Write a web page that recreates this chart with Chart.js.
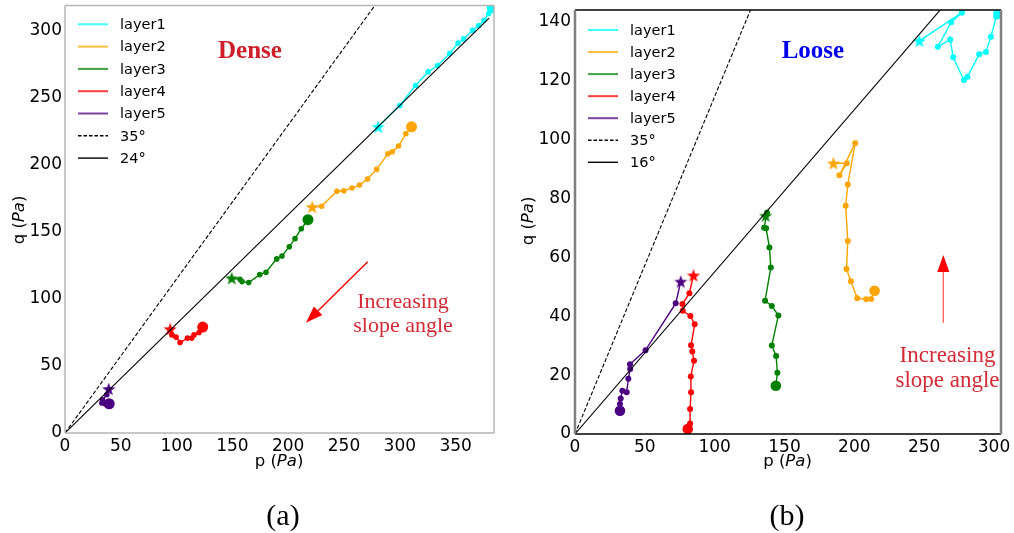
<!DOCTYPE html>
<html><head><meta charset="utf-8">
<script src="https://cdn.jsdelivr.net/npm/chart.js@4"></script>
<style>
html,body{margin:0;padding:0;background:#fff;width:1014px;height:533px;overflow:hidden}
canvas{position:absolute;top:0}
#c1{left:0} #c2{left:507px}
</style></head><body>
<canvas id="c1" width="507" height="533"></canvas>
<canvas id="c2" width="507" height="533"></canvas>
<script>
// ---------- DATA: (a) Dense ----------
const layerNames = ['layer1','layer2','layer3','layer4','layer5'];
const layerColors = ['#00ffff','#ffa500','#008000','#ff0000','#4b0082'];

const denseL1p = [280.6, 300.0, 314.1, 325.4, 333.8, 344.8, 352.2, 357.3, 365.1, 370.7, 375.5, 379.7, 382.7];
const denseL1q = [228.1, 244.0, 258.9, 269.1, 273.8, 282.7, 290.6, 293.6, 300.1, 303.6, 307.5, 312.5, 317.0];
const denseL2p = [221.5, 229.9, 243.6, 249.9, 257.1, 263.9, 271.1, 279.2, 289.3, 293.2, 298.9, 305.4, 310.5];
const denseL2q = [168.4, 168.9, 180.1, 180.5, 182.5, 184.7, 189.2, 196.4, 208.0, 209.5, 213.8, 222.9, 228.1];
const denseL3p = [149.4, 156.8, 158.6, 164.6, 174.5, 180.1, 189.7, 194.4, 201.0, 206.1, 211.7, 217.7];
const denseL3q = [115.3, 114.6, 112.8, 112.1, 118.0, 119.8, 129.7, 131.9, 138.8, 144.8, 152.2, 158.9];
const denseL4p = [94.2, 95.7, 99.5, 103.1, 109.7, 113.6, 115.6, 120.1, 123.4];
const denseL4q = [77.4, 73.1, 71.4, 67.4, 70.7, 70.7, 73.1, 74.9, 78.9];
const denseL5p = [39.2, 37.5, 33.6, 33.0, 36.0, 39.6];
const denseL5q = [32.8, 28.5, 24.8, 22.3, 21.8, 21.8];
const denseRefLabels = ['35°','24°'];
const denseRef35 = [[0,0],[400,458.9]];
const denseRef24 = [[0,0],[380,309.1]];
const denseXTicksStep = 50, denseYTicksStep = 50;
const denseXMax = 384.4, denseYMax = 318.5;

// ---------- DATA: (b) Loose ----------
const looseL1p = [246.6, 277.0, 269.3, 259.8, 268.6, 270.8, 278.4, 281.0, 289.4, 294.2, 297.8, 301.6, 303.2];
const looseL1q = [133.6, 143.2, 139.9, 131.6, 134.1, 128.0, 120.3, 121.4, 129.1, 129.8, 135.0, 141.8, 142.9];
const looseL2p = [185.0, 194.6, 189.3, 200.6, 195.3, 193.8, 195.3, 194.4, 197.5, 202.1, 208.5, 212.1, 214.5];
const looseL2q = [92.0, 92.0, 87.9, 98.8, 84.8, 77.6, 65.6, 56.1, 51.9, 46.1, 45.8, 45.9, 48.7];
const looseL3p = [136.5, 137.5, 135.4, 136.8, 139.2, 140.2, 136.1, 140.9, 145.6, 140.9, 144.0, 144.9, 143.8];
const looseL3q = [74.2, 75.2, 70.1, 69.9, 63.4, 56.6, 45.3, 43.5, 40.3, 30.1, 26.5, 20.8, 16.4];
const looseL4p = [84.8, 81.9, 76.9, 77.1, 82.6, 85.7, 83.1, 84.0, 85.2, 82.9, 83.1, 82.4, 82.4, 80.7];
const looseL4q = [53.9, 47.8, 44.2, 41.9, 40.1, 37.3, 30.2, 28.0, 24.9, 19.5, 14.2, 8.5, 3.6, 1.7];
const looseL5p = [75.7, 72.1, 50.5, 39.4, 39.5, 38.2, 37.0, 33.9, 32.7, 32.2, 32.2];
const looseL5q = [51.8, 44.4, 28.5, 23.7, 22.1, 18.8, 14.2, 14.7, 12.1, 10.2, 7.9];
const looseRefLabels = ['35°','16°'];
const looseRef35 = [[0,0],[300,344.1]];
const looseRef16 = [[0,0],[305,168.1]];
const looseXTicksStep = 50, looseYTicksStep = 20;
const looseXMax = 305, looseYMax = 144.1;

// ---------- helpers ----------
const SANS = '"DejaVu Sans", sans-serif';
const SERIF = '"Liberation Serif", "DejaVu Serif", serif';
const zip = (p, q) => p.map((v, i) => ({x: v, y: q[i]}));
const pairs = a => a.map(v => ({x: v[0], y: v[1]}));

function starImg(color, size) {
  const c = document.createElement('canvas');
  c.width = c.height = size;
  const g = c.getContext('2d');
  const cx = size / 2, cy = size / 2 + 0.6, R = size / 2, r = R * 0.40;
  g.beginPath();
  for (let i = 0; i < 10; i++) {
    const a = -Math.PI / 2 + i * Math.PI / 5;
    const rad = i % 2 ? r : R;
    g.lineTo(cx + rad * Math.cos(a), cy + rad * Math.sin(a));
  }
  g.closePath();
  g.fillStyle = color;
  g.fill();
  return c;
}

function hexA(hex, a) {
  const n = parseInt(hex.slice(1), 16);
  return `rgba(${(n >> 16) & 255},${(n >> 8) & 255},${n & 255},${a})`;
}

function layerDataset(label, color, data, small, big) {
  const star = starImg(color, 14);
  return {
    label, data, showLine: true, borderColor: color, backgroundColor: color,
    borderWidth: 1.4, pointBorderWidth: 0,
    pointBackgroundColor: color,
    pointStyle: c => c.dataIndex === 0 ? star : 'circle',
    pointRadius: c => c.dataIndex === c.dataset.data.length - 1 ? big : small,
    order: 2
  };
}
function refDataset(label, data, dash) {
  return {label, data, showLine: true, borderColor: '#000', borderWidth: 1.1,
    borderDash: dash, pointRadius: 0, order: 1, isRef: true};
}

function arrow(ctx, x1, y1, x2, y2, shaftColor, headColor, hl, hw) {
  const ang = Math.atan2(y2 - y1, x2 - x1);
  const bx = x2 - hl * Math.cos(ang), by = y2 - hl * Math.sin(ang);
  ctx.save();
  ctx.strokeStyle = shaftColor; ctx.lineWidth = 1.4;
  ctx.beginPath(); ctx.moveTo(x1, y1); ctx.lineTo(bx, by); ctx.stroke();
  ctx.fillStyle = headColor;
  ctx.beginPath();
  ctx.moveTo(x2, y2);
  ctx.lineTo(bx + hw / 2 * Math.sin(ang), by - hw / 2 * Math.cos(ang));
  ctx.lineTo(bx - hw / 2 * Math.sin(ang), by + hw / 2 * Math.cos(ang));
  ctx.closePath(); ctx.fill();
  ctx.restore();
}

function mixedText(ctx, parts, cx, cy, size) {
  let total = 0;
  const widths = parts.map(p => {
    ctx.font = (p.italic ? 'italic ' : '') + size + 'px ' + SANS;
    const w = ctx.measureText(p.t).width; total += w; return w;
  });
  let x = cx - total / 2;
  ctx.textBaseline = 'middle'; ctx.textAlign = 'left'; ctx.fillStyle = '#000';
  parts.forEach((p, i) => {
    ctx.font = (p.italic ? 'italic ' : '') + size + 'px ' + SANS;
    ctx.fillText(p.t, x, cy); x += widths[i];
  });
}

const decorPlugin = {
  id: 'decor',
  afterDraw(chart) {
    const o = chart.options.plugins.decor;
    const ctx = chart.ctx, a = chart.chartArea;
    ctx.save();
    const sp = o.spines;
    const line = (x1, y1, x2, y2, c, w) => { ctx.strokeStyle = c; ctx.lineWidth = w; ctx.beginPath(); ctx.moveTo(x1, y1); ctx.lineTo(x2, y2); ctx.stroke(); };
    line(a.left, a.top, a.right, a.top, sp.top[0], sp.top[1]);
    line(a.left, a.bottom, a.right, a.bottom, sp.bottom[0], sp.bottom[1]);
    line(a.left, a.top, a.left, a.bottom, sp.left[0], sp.left[1]);
    line(a.right, a.top, a.right, a.bottom, sp.right[0], sp.right[1]);
    const L = o.legend;
    chart.data.datasets.forEach((ds, i) => {
      const y = L.y0 + i * L.dy;
      ctx.strokeStyle = ds.isRef ? '#000' : hexA(ds.borderColor, 0.75);
      ctx.lineWidth = ds.isRef ? 1.4 : 2;
      ctx.setLineDash(ds.isRef && ds.borderDash.length ? [3.5, 2] : []);
      ctx.beginPath(); ctx.moveTo(L.x0, y); ctx.lineTo(L.x1, y); ctx.stroke();
      ctx.setLineDash([]);
      ctx.fillStyle = '#000'; ctx.font = '14.5px ' + SANS;
      ctx.textBaseline = 'middle'; ctx.textAlign = 'left';
      ctx.fillText(ds.label, L.tx, y + 1);
    });
    mixedText(ctx, [{t: 'p ('}, {t: 'Pa', italic: true}, {t: ')'}], o.xTitle[0], o.xTitle[1], 16.5);
    ctx.save();
    ctx.translate(o.yTitle[0], o.yTitle[1]); ctx.rotate(-Math.PI / 2);
    mixedText(ctx, [{t: 'q ('}, {t: 'Pa', italic: true}, {t: ')'}], 0, 0, 16.5);
    ctx.restore();
    const t = o.title;
    ctx.font = 'bold 25px ' + SERIF; ctx.fillStyle = t.color;
    ctx.textAlign = 'left'; ctx.textBaseline = 'alphabetic';
    ctx.fillText(t.text, t.x, t.y);
    const n = o.note;
    ctx.font = n.size + 'px ' + SERIF; ctx.fillStyle = '#d42a36'; ctx.textAlign = 'center';
    n.lines.forEach((s, i) => ctx.fillText(s, n.x, n.y + i * n.dy));
    const ar = o.arrow;
    arrow(ctx, ar[0], ar[1], ar[2], ar[3], ar[4], ar[5], 17, 12);
    ctx.font = '30px ' + SERIF; ctx.fillStyle = '#000'; ctx.textAlign = 'center';
    ctx.fillText(o.panel.text, o.panel.x, o.panel.y);
    ctx.restore();
  }
};

function makeChart(id, cfg) {
  const W = 507, H = 533;
  const tickFont = {family: SANS, size: 17};
  return new Chart(document.getElementById(id), {
    type: 'scatter',
    data: {datasets: cfg.datasets},
    options: {
      responsive: false, animation: false, devicePixelRatio: 1, events: [],
      layout: {padding: {top: cfg.area.top, right: W - cfg.area.right, left: 0, bottom: 0}},
      scales: {
        x: {type: 'linear', min: 0, max: cfg.xMax,
          ticks: {stepSize: cfg.xStep, includeBounds: false, font: tickFont, color: '#000', padding: 3, maxRotation: 0},
          grid: {display: false, drawTicks: false}, border: {display: false},
          afterFit(s) { s.height = H - cfg.area.bottom; }},
        y: {type: 'linear', min: 0, max: cfg.yMax,
          ticks: {stepSize: cfg.yStep, includeBounds: false, font: tickFont, color: '#000', padding: cfg.yPad},
          grid: {display: false, drawTicks: false}, border: {display: false},
          afterFit(s) { s.width = cfg.area.left; s.paddingTop = 0; s.paddingBottom = 0; }}
      },
      plugins: {legend: {display: false}, tooltip: {enabled: false}, decor: cfg.decor}
    },
    plugins: [decorPlugin]
  });
}

const denseSets = [
  [denseL1p, denseL1q], [denseL2p, denseL2q], [denseL3p, denseL3q], [denseL4p, denseL4q], [denseL5p, denseL5q]
].map((s, i) => layerDataset(layerNames[i], layerColors[i], zip(s[0], s[1]), 2.8, 5.5));
denseSets.push(refDataset(denseRefLabels[0], pairs(denseRef35), [4, 2]));
denseSets.push(refDataset(denseRefLabels[1], pairs(denseRef24), []));

const looseSets = [
  [looseL1p, looseL1q], [looseL2p, looseL2q], [looseL3p, looseL3q], [looseL4p, looseL4q], [looseL5p, looseL5q]
].map((s, i) => layerDataset(layerNames[i], layerColors[i], zip(s[0], s[1]), 3.0, 5.3));
looseSets.push(refDataset(looseRefLabels[0], pairs(looseRef35), [4, 2]));
looseSets.push(refDataset(looseRefLabels[1], pairs(looseRef16), []));

makeChart('c1', {
  datasets: denseSets, xMax: denseXMax, yMax: denseYMax, xStep: denseXTicksStep, yStep: denseYTicksStep, yPad: 3,
  area: {left: 65, right: 494, top: 5, bottom: 433},
  decor: {
    spines: {top: ['#b4b4b4', 1.5], bottom: ['#b4b4b4', 1.5], left: ['#b4b4b4', 1.5], right: ['#b4b4b4', 1.5]},
    legend: {x0: 78, x1: 108, tx: 120, y0: 24.3, dy: 22.3},
    xTitle: [279, 462], yTitle: [20, 220],
    title: {text: 'Dense', color: '#cc1f2a', x: 218, y: 58},
    note: {lines: ['Increasing', 'slope angle'], x: 403, y: 308, dy: 24, size: 22},
    arrow: [367.7, 261.7, 306, 322.7, '#ff0000', '#ff0000'],
    panel: {text: '(a)', x: 283, y: 525}
  }
});

makeChart('c2', {
  datasets: looseSets, xMax: looseXMax, yMax: looseYMax, xStep: looseXTicksStep, yStep: looseYTicksStep, yPad: 4,
  area: {left: 68, right: 494, top: 10, bottom: 434},
  decor: {
    spines: {top: ['#000', 1.3], bottom: ['#000', 1.3], left: ['#808080', 2.5], right: ['#808080', 2.5]},
    legend: {x0: 81, x1: 111, tx: 123, y0: 30, dy: 22.05},
    xTitle: [280.5, 462], yTitle: [22, 221],
    title: {text: 'Loose', color: '#0000ee', x: 274.7, y: 58},
    note: {lines: ['Increasing', 'slope angle'], x: 440.5, y: 361.7, dy: 25, size: 23},
    arrow: [436.3, 322.7, 436.3, 255, '#ff6666', '#ff0000'],
    panel: {text: '(b)', x: 280, y: 525}
  }
});
</script>
</body></html>
